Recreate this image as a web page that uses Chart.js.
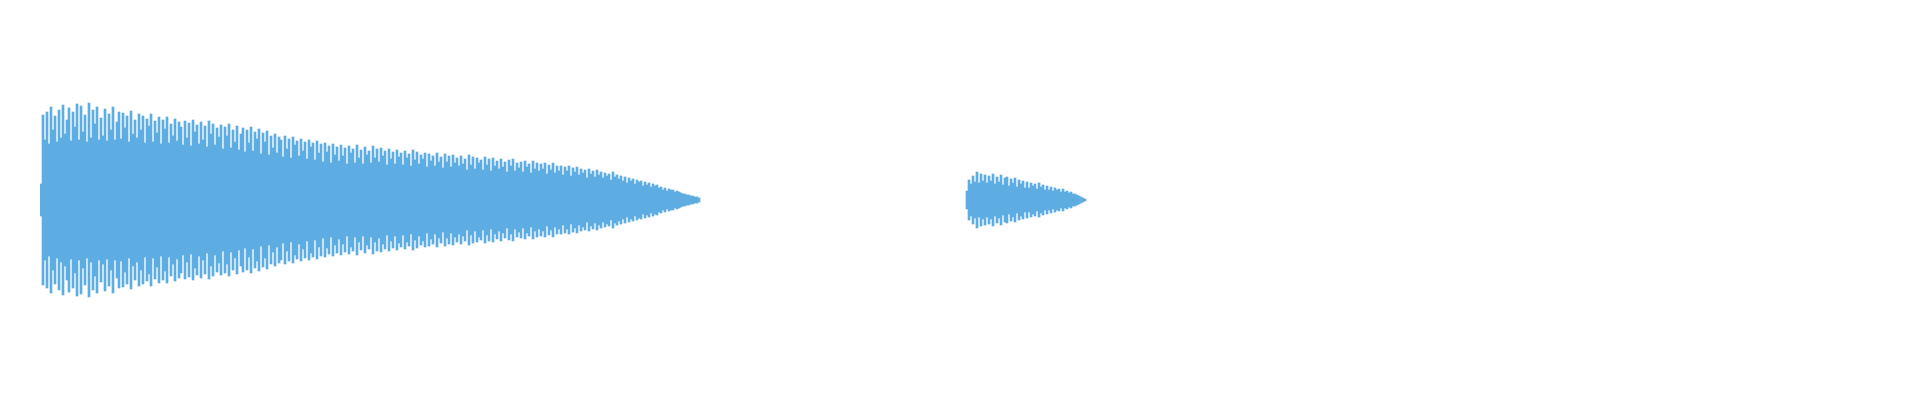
<!DOCTYPE html>
<html>
	<head>
		<meta charset="UTF-8" />
		<title>Waveform</title>
		<style type="text/css">
body { margin: 0; background: #fff; }
		</style>
	</head>
	<body>
		<script src="https://cdn.jsdelivr.net/npm/chart.js@4/dist/chart.umd.min.js"></script>
		<canvas id="myChart" width="1920" height="400"></canvas>
		<script charset="utf-8">
			// peak amplitude per sample, first sound
			const firstClip = [
				16, 85, 60, 88, 56, 93, 70, 84, 58, 90,
				62, 95, 66, 80, 92, 59, 88, 73, 96, 60,
				94, 68, 85, 58, 97, 62, 90, 76, 93, 60,
				82, 64, 91, 59, 86, 70, 93, 60, 78, 88,
				61, 87, 72, 84, 58, 89, 66, 80, 62, 86,
				70, 84, 57, 81, 74, 86, 58, 79, 67, 83,
				56, 80, 71, 83, 57, 76, 64, 81, 59, 78,
				73, 55, 79, 62, 77, 54, 80, 68, 75, 56,
				78, 60, 74, 53, 79, 66, 76, 55, 72, 63,
				75, 51, 73, 64, 76, 52, 70, 58, 74, 50,
				66, 72, 48, 70, 57, 73, 49, 68, 61, 71,
				46, 67, 58, 69, 45, 64, 52, 66, 47, 63,
				60, 43, 64, 51, 61, 42, 63, 55, 59, 44,
				61, 49, 58, 41, 60, 53, 57, 40, 59, 47,
				56, 38, 57, 48, 54, 37, 56, 45, 53, 39,
				55, 44, 52, 36, 54, 47, 51, 37, 55, 42,
				50, 36, 53, 45, 49, 37, 54, 42, 51, 38,
				52, 44, 49, 35, 51, 41, 48, 36, 50, 43,
				47, 35, 49, 42, 46, 34, 50, 40, 48, 36,
				45, 41, 47, 33, 46, 39, 44, 34, 47, 38,
				43, 32, 46, 38, 44, 33, 45, 37, 42, 34,
				44, 36, 41, 30, 45, 35, 43, 31, 42, 37,
				40, 30, 43, 35, 41, 29, 42, 34, 39, 31,
				41, 33, 38, 28, 40, 34, 41, 29, 37, 32,
				38, 28, 39, 33, 36, 27, 39, 31, 37, 29,
				36, 31, 37, 26, 35, 30, 37, 27, 34, 29,
				34, 25, 33, 29, 34, 24, 32, 28, 33, 25,
				31, 27, 30, 22, 31, 26, 29, 23, 30, 25,
				28, 22, 27, 24, 26, 20, 28, 23, 25, 21,
				24, 19, 23, 17, 22, 19, 21, 16, 20, 18,
				19, 14, 18, 15, 17, 13, 16, 14, 15, 12,
				13, 10, 12, 9, 11, 10, 10, 8, 9, 8,
				7, 6, 6, 5, 5, 4, 4, 3, 3, 2
			];
			// samples of silence between the two sounds
			const silenceLength = 133;
			// peak amplitude per sample, second sound
			const secondClip = [
				9, 20, 16, 24, 18, 28, 17, 26, 19, 25,
				17, 24, 19, 26, 16, 23, 18, 25, 15, 22,
				23, 14, 21, 17, 22, 13, 20, 16, 19, 12,
				18, 12, 17, 14, 16, 11, 17, 13, 15, 10,
				14, 10, 13, 9, 12, 10, 11, 8, 11, 8,
				9, 7, 8, 6, 6, 5, 4, 3, 2, 1
			];
			const totalSamples = 920;

			const amplitudes = firstClip
				.concat(new Array(silenceLength).fill(null))
				.concat(secondClip);
			const labels = [];
			for (let i = 0; i < totalSamples; i++) labels.push(i);

			const data = {
				labels: labels,
				datasets: [{
					label: 'waveform',
					backgroundColor: '#5DADE2',
					borderWidth: 0,
					barPercentage: 1,
					categoryPercentage: 1,
					data: amplitudes.map(a => a === null ? null : [-a, a]),
				}]
			};

			const config = {
				type: 'bar',
				data,
				options: {
					responsive: false,
					animation: false,
					layout: { padding: { left: 40, right: 40, top: 0, bottom: 0 } },
					plugins: {
						legend: { display: false },
						tooltip: { enabled: false }
					},
					scales: {
						x: { display: false },
						y: { display: false, min: -200, max: 200 }
					}
				}
			};

			var ctx = document.getElementById('myChart').getContext('2d');
			var myChart = new Chart(ctx, config);
		</script>
	</body>
</html>
